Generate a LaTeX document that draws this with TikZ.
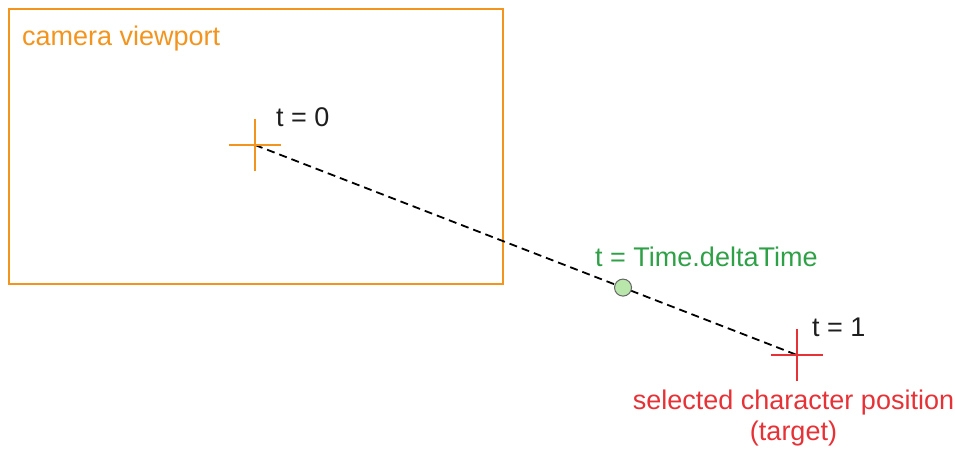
\documentclass[tikz,border=0pt]{standalone}
\usepackage{fontspec}
\setmainfont{Liberation Sans}
\usetikzlibrary{calc}
\definecolor{vporange}{RGB}{242,148,30}
\definecolor{tgred}{RGB}{230,50,55}
\definecolor{dtgreen}{RGB}{46,160,70}
\definecolor{ptfill}{RGB}{185,230,170}
\definecolor{lbl}{RGB}{30,30,30}
\begin{document}
\begin{tikzpicture}[x=1pt,y=-1pt,
  txt/.style={inner sep=0pt,font=\fontsize{27}{31}\selectfont},
  crossline/.style={line width=1.8pt},
  path/.style={line width=1.8pt,dash pattern=on 8pt off 5pt},
  ptmark/.style={circle,draw=black!60,fill=ptfill,minimum size=17pt,inner sep=0pt,line width=1pt}]
\useasboundingbox (0,0) rectangle (955,448);
\node[draw=vporange,line width=1.8pt,minimum width=494pt,minimum height=275pt,inner sep=0pt,anchor=north west] (vp) at (8,8) {};
\node[txt,text=vporange,anchor=base west] (vplbl) at (22,45) {camera viewport};
\coordinate (s) at (255,145);
\coordinate (e) at (797,355);
\draw[path] (s) -- (e);
\draw[crossline,vporange] ([xshift=-26pt]s) -- ([xshift=26pt]s);
\draw[crossline,vporange] ([yshift=-26pt]s) -- ([yshift=26pt]s);
\draw[crossline,tgred] ([xshift=-26pt]e) -- ([xshift=26pt]e);
\draw[crossline,tgred] ([yshift=-26pt]e) -- ([yshift=26pt]e);
\node[ptmark] (pt) at ($(s)!0.679!(e)$) {};
\node[txt,text=lbl,anchor=base west] (t0) at (276,126) {t = 0};
\node[txt,text=lbl,anchor=base west] (t1) at (812,336) {t = 1};
\node[txt,text=dtgreen,anchor=base west] (tdt) at (595,266) {t = Time.deltaTime};
\node[txt,text=tgred,align=center,anchor=north] (sel) at (793.5,389.5) {selected character position\\(target)};
\end{tikzpicture}
\end{document}
